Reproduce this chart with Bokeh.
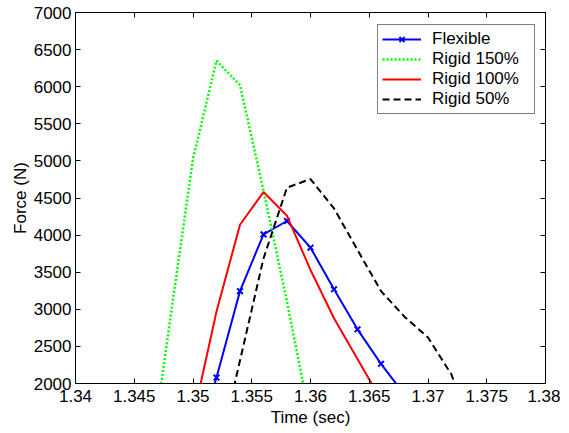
from bokeh.plotting import figure
from bokeh.models import Range1d, FixedTicker, LinearAxis, Legend
from bokeh.embed import file_html
from bokeh.resources import INLINE

# ---- data ----
t_flex = [1.350, 1.352, 1.354, 1.356, 1.358, 1.360, 1.362, 1.364, 1.366, 1.368]
f_flex = [1000, 2080, 3245, 4010, 4190, 3830, 3270, 2730, 2265, 1850]

t_r150 = [1.346, 1.348, 1.350, 1.352, 1.354, 1.356, 1.358, 1.360]
f_r150 = [500, 2800, 5030, 6350, 6020, 4600, 3100, 1500]

t_r100 = [1.350, 1.352, 1.354, 1.356, 1.358, 1.360, 1.362, 1.364, 1.366]
f_r100 = [1530, 2970, 4140, 4580, 4260, 3530, 2880, 2330, 1780]

t_r50 = [1.352, 1.354, 1.356, 1.358, 1.360, 1.362, 1.364, 1.366, 1.368, 1.370, 1.372, 1.374]
f_r50 = [935, 2310, 3685, 4640, 4755, 4360, 3800, 3245, 2900, 2620, 2120, 1200]

x_ticks = [1.34, 1.345, 1.35, 1.355, 1.36, 1.365, 1.37, 1.375, 1.38]
x_tick_labels = ["1.34", "1.345", "1.35", "1.355", "1.36", "1.365", "1.37", "1.375", "1.38"]
y_ticks = [2000, 2500, 3000, 3500, 4000, 4500, 5000, 5500, 6000, 6500, 7000]

FONT = "Liberation Sans"
FS = "17px"

p = figure(width=560, height=430, output_backend="svg", toolbar_location=None,
           x_range=Range1d(1.34, 1.38), y_range=Range1d(2000, 7000),
           min_border_left=75, min_border_right=15, min_border_top=12, min_border_bottom=47)
p.background_fill_color = "white"
p.border_fill_color = "white"
p.outline_line_color = "black"
p.outline_line_width = 1
p.xgrid.visible = False
p.ygrid.visible = False

p.xaxis.ticker = FixedTicker(ticks=x_ticks)
p.xaxis.major_label_overrides = {x: s for x, s in zip(x_ticks, x_tick_labels)}
p.yaxis.ticker = FixedTicker(ticks=y_ticks)
p.xaxis.axis_label = "Time (sec)"
p.yaxis.axis_label = "Force (N)"

for ax in [p.xaxis[0], p.yaxis[0]]:
    ax.major_label_text_font = FONT
    ax.major_label_text_font_size = FS
    ax.major_label_text_color = "black"
    ax.axis_label_text_font = FONT
    ax.axis_label_text_font_size = FS
    ax.axis_label_text_font_style = "normal"
    ax.axis_label_text_color = "black"
    ax.major_tick_in = 5
    ax.major_tick_out = 0
    ax.minor_tick_line_color = None
    ax.axis_line_color = "black"
    ax.major_tick_line_color = "black"
    ax.major_label_standoff = 4
p.xaxis.major_label_standoff = 6
p.yaxis.axis_label_standoff = 1
p.xaxis.axis_label_standoff = 3

# mirrored ticks on top and right (no labels)
top = LinearAxis(ticker=FixedTicker(ticks=x_ticks),
                 major_label_overrides={x: "" for x in x_ticks},
                 major_tick_in=5, major_tick_out=0, minor_tick_line_color=None,
                 major_label_standoff=0)
right = LinearAxis(ticker=FixedTicker(ticks=y_ticks),
                   major_label_overrides={y: "" for y in y_ticks},
                   major_tick_in=5, major_tick_out=0, minor_tick_line_color=None,
                   major_label_standoff=0)
p.add_layout(top, "above")
p.add_layout(right, "right")

r_flex_l = p.line(t_flex, f_flex, line_color="#0000FF", line_width=2)
r_flex_m = p.scatter(t_flex, f_flex, marker="x", size=8, line_color="#0000FF", line_width=2)
r150 = p.line(t_r150, f_r150, line_color="#00FF00", line_width=2.5, line_dash="2 2")
r100 = p.line(t_r100, f_r100, line_color="#FF0000", line_width=2)
r50 = p.line(t_r50, f_r50, line_color="black", line_width=2, line_dash="7 4")

legend = Legend(items=[("Flexible", [r_flex_l, r_flex_m]),
                       ("Rigid 150%", [r150]),
                       ("Rigid 100%", [r100]),
                       ("Rigid 50%", [r50])],
                location=(302, 269))
legend.label_text_font = FONT
legend.label_text_font_size = FS
legend.label_text_color = "black"
legend.border_line_color = "black"
legend.border_line_width = 1
legend.background_fill_alpha = 1
legend.padding = 4
legend.spacing = 0
legend.margin = 0
legend.glyph_width = 39
legend.glyph_height = 18
legend.label_height = 18
legend.label_standoff = 11
legend.label_width = 98
p.add_layout(legend, "center")

open("out.html", "w").write(file_html(p, INLINE))
